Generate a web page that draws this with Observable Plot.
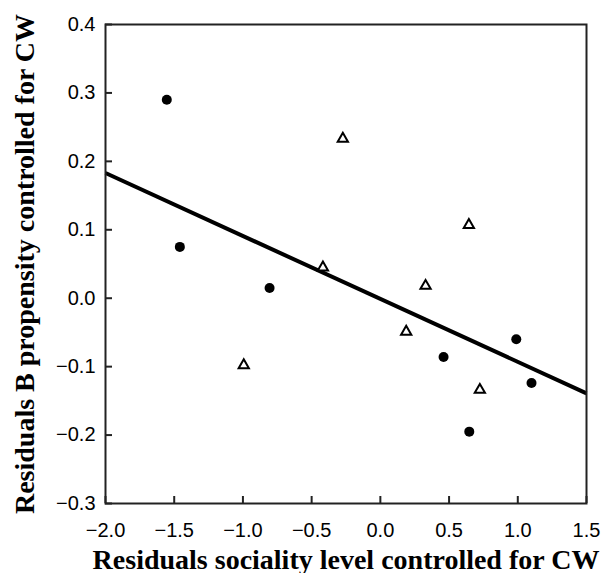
<!DOCTYPE html>
<html>
<head>
<meta charset="utf-8">
<script src="https://cdn.jsdelivr.net/npm/d3@7"></script>
<script src="https://cdn.jsdelivr.net/npm/@observablehq/plot@0.6"></script>
<style>
  html, body { margin: 0; padding: 0; background: #fff; }
</style>
</head>
<body>
<div id="chart"></div>
<script>
// Filled circles
const circleX = [-1.554, -1.459, -0.806, 0.460, 0.989, 1.100, 0.647];
const circleY = [0.290, 0.075, 0.015, -0.086, -0.060, -0.124, -0.195];
// Open triangles
const triX = [-0.994, -0.418, -0.273, 0.188, 0.329, 0.644, 0.724];
const triY = [-0.098, 0.045, 0.233, -0.049, 0.018, 0.107, -0.134];
// Regression line endpoints
const lineX = [-2.0, 1.5];
const lineY = [0.183, -0.139];
// Ticks
const xTicks = [-2.0, -1.5, -1.0, -0.5, 0.0, 0.5, 1.0, 1.5];
const yTicks = [-0.3, -0.2, -0.1, 0.0, 0.1, 0.2, 0.3, 0.4];
const xTitle = "Residuals sociality level controlled for CW";
const yTitle = "Residuals B propensity controlled for CW";

const circles = circleX.map((x, i) => ({x, y: circleY[i]}));
const tris = triX.map((x, i) => ({x, y: triY[i]}));
const fit = lineX.map((x, i) => ({x, y: lineY[i]}));

const tickFont = {fontSize: 20, fontFamily: "'Liberation Sans', Arial, sans-serif"};
const titleFont = {fontSize: 28, fontFamily: "'Liberation Serif', 'Times New Roman', serif", fontWeight: "bold"};

const chart = Plot.plot({
  width: 602,
  height: 573,
  marginLeft: 105,
  marginRight: 16,
  marginTop: 24,
  marginBottom: 70,
  x: {domain: [-2.0, 1.5]},
  y: {domain: [-0.3, 0.4]},
  marks: [
    // tick labels
    Plot.axisX(xTicks, {tickSize: 0, tickPadding: 19, tickFormat: d3.format(".1f"), label: null, ...tickFont}),
    Plot.axisY(yTicks, {tickSize: 0, tickPadding: 10, tickFormat: d3.format(".1f"), label: null, ...tickFont}),
    // regression line
    Plot.line(fit, {x: "x", y: "y", stroke: "#000", strokeWidth: 4, strokeLinecap: "butt"}),
    // points
    Plot.dot(circles, {x: "x", y: "y", r: 5, fill: "#000", stroke: "none"}),
    Plot.dot(tris, {x: "x", y: "y", symbol: "triangle", r: 3.8, fill: "#fff", stroke: "#000", strokeWidth: 2}),
    // axis titles
    Plot.text([xTitle], {frameAnchor: "bottom", lineAnchor: "bottom", dy: 65, ...titleFont}),
    Plot.text([yTitle], {frameAnchor: "left", textAnchor: "middle", lineAnchor: "bottom", rotate: -90, dx: -72, ...titleFont}),
    // inward ticks (left and bottom)
    Plot.axisX(xTicks, {tickSize: 7, dy: -7, text: null, label: null, stroke: "#222", strokeWidth: 2}),
    Plot.axisY(yTicks, {tickSize: 7, dx: 7, text: null, label: null, stroke: "#222", strokeWidth: 2}),
    // frame drawn last
    Plot.frame({stroke: "#222", strokeWidth: 2})
  ]
});
document.getElementById("chart").appendChild(chart);
</script>
</body>
</html>
